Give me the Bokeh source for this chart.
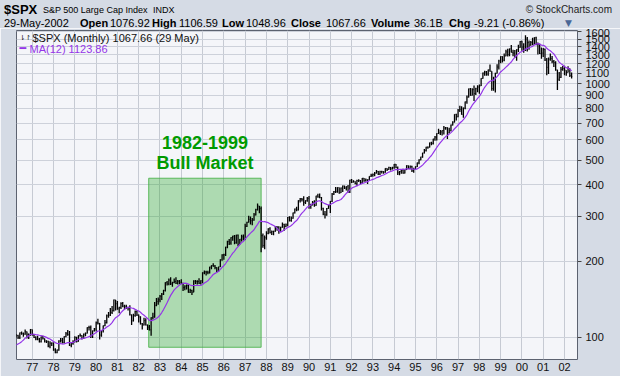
import html
import pandas as pd
from bokeh.plotting import figure
from bokeh.layouts import column
from bokeh.models import Range1d, FixedTicker, Label, NumeralTickFormatter, Div
from bokeh.embed import file_html
from bokeh.resources import INLINE

# ---------------- data (monthly S&P 500, Jan 1975 .. May 2002) ----------------
months = pd.period_range("1975-01", "2002-05", freq="M")
prior_close = 68.56  # Dec 1974 close (open of first month)

close = [
    76.98, 81.59, 83.36, 87.30, 91.15, 95.19, 88.75, 86.88, 83.87, 89.04, 91.24, 90.19,
    100.86, 99.71, 102.77, 101.64, 100.18, 104.28, 103.44, 102.91, 105.24, 102.90, 102.10, 107.46,
    102.03, 99.82, 98.42, 98.44, 96.12, 100.48, 98.85, 96.77, 96.53, 92.34, 94.83, 95.10,
    89.25, 87.04, 89.21, 96.83, 97.24, 95.53, 100.68, 103.29, 102.54, 93.15, 94.70, 96.11,
    99.93, 96.28, 101.59, 101.76, 99.08, 102.91, 103.81, 109.32, 109.32, 101.82, 106.16, 107.94,
    114.16, 113.66, 102.09, 106.29, 111.24, 114.24, 121.67, 122.38, 125.46, 127.47, 140.52, 135.76,
    129.55, 131.27, 136.00, 132.81, 132.59, 131.21, 130.92, 122.79, 116.18, 121.89, 126.35, 122.55,
    120.40, 113.11, 111.96, 116.44, 111.88, 109.61, 107.09, 119.51, 120.42, 133.71, 138.54, 140.64,
    145.30, 148.06, 152.96, 164.42, 162.39, 168.11, 162.56, 164.40, 166.07, 163.55, 166.40, 164.93,
    163.41, 157.06, 159.18, 160.05, 150.55, 153.18, 150.66, 166.68, 166.10, 166.09, 163.58, 167.24,
    179.63, 181.18, 180.66, 179.83, 189.55, 191.85, 190.92, 188.63, 182.08, 189.82, 202.17, 211.28,
    211.78, 226.92, 238.90, 235.52, 247.35, 250.84, 236.12, 252.93, 231.32, 243.98, 249.22, 242.17,
    274.08, 284.20, 291.70, 288.36, 290.10, 304.00, 318.66, 329.80, 321.83, 251.79, 230.30, 247.08,
    257.07, 267.82, 258.89, 261.33, 262.16, 273.50, 272.02, 261.52, 271.91, 278.97, 273.70, 277.72,
    297.47, 288.86, 294.87, 309.64, 320.52, 317.98, 346.08, 351.45, 349.15, 340.36, 345.99, 353.40,
    329.08, 331.89, 339.94, 330.80, 361.23, 358.02, 356.15, 322.56, 306.05, 304.00, 322.22, 330.22,
    343.93, 367.07, 375.22, 375.35, 389.83, 371.16, 387.81, 395.43, 387.86, 392.46, 375.22, 417.09,
    408.79, 412.70, 403.69, 414.95, 415.35, 408.14, 424.21, 414.03, 417.80, 418.68, 431.35, 435.71,
    438.78, 443.38, 451.67, 440.19, 450.19, 450.53, 448.13, 463.56, 458.93, 467.83, 461.79, 466.45,
    481.61, 467.14, 445.77, 450.91, 456.50, 444.27, 458.26, 475.49, 462.69, 472.35, 453.69, 459.27,
    470.42, 487.39, 500.71, 514.71, 533.40, 544.75, 562.06, 561.88, 584.41, 581.50, 605.37, 615.93,
    636.02, 640.43, 645.50, 654.17, 669.12, 670.63, 639.95, 651.99, 687.31, 705.27, 757.02, 740.74,
    786.16, 790.82, 757.12, 801.34, 848.28, 885.14, 954.31, 899.47, 947.28, 914.62, 955.40, 970.43,
    980.28, 1049.34, 1101.75, 1111.75, 1090.82, 1133.84, 1120.67, 957.28, 1017.01, 1098.67, 1163.63, 1229.23,
    1279.64, 1238.33, 1286.37, 1335.18, 1301.84, 1372.71, 1328.72, 1320.41, 1282.71, 1362.93, 1388.91, 1469.25,
    1394.46, 1366.42, 1498.58, 1452.43, 1420.60, 1454.60, 1430.83, 1517.68, 1436.51, 1429.40, 1314.95, 1320.28,
    1366.01, 1239.94, 1160.33, 1249.46, 1255.82, 1224.42, 1211.23, 1133.58, 1040.94, 1059.78, 1139.45, 1148.08,
    1130.20, 1106.73, 1147.39, 1076.92, 1067.66,
]

high = [
    78.0, 82.5, 86.0, 87.6, 92.0, 95.9, 96.0, 89.5, 87.0, 90.5, 92.0, 91.5,
    101.0, 102.0, 103.0, 103.0, 102.5, 104.5, 105.5, 104.5, 107.5, 105.5, 103.5, 107.8,
    107.5, 103.0, 101.0, 101.5, 99.5, 100.8, 101.5, 99.0, 97.5, 97.0, 96.5, 95.5,
    95.5, 90.5, 89.5, 97.5, 99.5, 99.5, 101.0, 105.0, 107.0, 106.0, 95.5, 97.5,
    101.0, 100.5, 102.0, 103.5, 102.0, 103.5, 104.5, 109.5, 111.0, 111.5, 106.5, 109.0,
    115.5, 118.5, 114.0, 106.5, 111.5, 117.0, 123.0, 126.0, 130.5, 133.0, 141.0, 140.5,
    139.0, 132.0, 137.5, 138.0, 134.5, 134.5, 132.0, 134.0, 123.0, 124.0, 127.5, 127.5,
    123.0, 121.0, 114.0, 119.5, 119.0, 112.5, 112.0, 120.0, 125.0, 138.0, 143.0, 143.5,
    147.0, 149.5, 154.0, 165.0, 167.0, 170.5, 172.5, 165.5, 170.5, 172.5, 168.5, 168.5,
    169.5, 164.0, 160.5, 161.5, 161.5, 155.5, 154.0, 168.0, 168.5, 168.0, 171.0, 168.0,
    180.5, 183.5, 183.0, 183.0, 190.0, 192.5, 196.0, 193.0, 189.0, 190.0, 203.0, 212.5,
    213.5, 227.5, 240.5, 244.5, 248.0, 251.5, 253.0, 254.0, 254.5, 244.5, 254.0, 254.5,
    280.5, 285.5, 301.5, 299.5, 295.5, 309.5, 321.5, 337.0, 329.5, 328.0, 257.0, 252.0,
    262.0, 269.0, 272.0, 264.0, 263.5, 275.0, 274.0, 274.5, 273.0, 284.0, 280.5, 281.0,
    298.0, 300.5, 299.5, 310.5, 322.0, 327.0, 347.0, 354.5, 354.0, 360.0, 347.0, 357.5,
    360.5, 336.0, 344.5, 347.5, 362.0, 368.0, 369.5, 357.5, 324.0, 315.0, 323.5, 332.5,
    344.5, 371.0, 377.5, 392.0, 390.5, 390.0, 390.0, 397.0, 396.0, 394.0, 399.0, 418.0,
    421.0, 416.5, 413.0, 418.0, 420.0, 417.5, 425.0, 425.0, 423.0, 419.5, 432.0, 441.5,
    442.5, 449.0, 456.5, 452.5, 453.5, 454.0, 451.5, 464.5, 464.5, 470.5, 469.5, 471.0,
    483.0, 482.5, 471.5, 453.0, 458.0, 462.5, 459.0, 476.5, 476.0, 475.5, 474.5, 466.0,
    472.5, 489.0, 504.0, 515.5, 534.0, 553.0, 564.0, 565.0, 586.5, 590.0, 607.0, 622.5,
    638.0, 664.5, 656.5, 656.0, 680.5, 675.5, 673.0, 670.5, 690.5, 711.0, 758.0, 762.0,
    795.0, 818.0, 814.5, 805.0, 851.0, 898.0, 957.0, 961.0, 960.0, 983.0, 963.0, 986.0,
    992.5, 1050.0, 1106.0, 1124.0, 1123.0, 1139.0, 1190.0, 1121.0, 1066.0, 1104.0, 1193.0, 1244.0,
    1283.0, 1282.0, 1316.0, 1362.0, 1375.0, 1376.0, 1421.0, 1360.0, 1358.0, 1367.0, 1424.0, 1474.0,
    1478.0, 1445.0, 1553.0, 1527.0, 1481.0, 1475.0, 1517.0, 1525.0, 1531.0, 1454.0, 1437.0, 1390.0,
    1384.0, 1376.0, 1263.0, 1269.0, 1316.0, 1287.0, 1240.0, 1227.0, 1134.0, 1111.0, 1163.0, 1174.0,
    1177.0, 1131.0, 1173.0, 1147.0, 1106.59,
]

low = [
    70.0, 76.0, 80.5, 80.4, 86.5, 89.5, 88.5, 82.2, 82.0, 83.0, 88.0, 86.0,
    90.0, 98.0, 98.5, 99.5, 98.5, 98.5, 102.5, 100.5, 102.5, 99.0, 98.5, 101.5,
    101.8, 99.5, 97.5, 97.5, 95.5, 95.5, 98.0, 95.5, 95.0, 91.5, 90.5, 92.5,
    88.5, 86.5, 86.5, 88.5, 95.5, 94.5, 94.5, 100.0, 101.5, 92.5, 91.5, 93.5,
    95.5, 95.5, 96.0, 100.5, 98.0, 98.5, 101.0, 103.5, 106.5, 99.5, 99.5, 105.5,
    105.5, 112.5, 98.0, 100.5, 104.5, 110.5, 113.5, 119.5, 121.5, 123.5, 126.5, 127.5,
    128.5, 124.5, 129.5, 131.5, 128.5, 129.5, 127.5, 122.0, 112.0, 115.5, 120.5, 121.5,
    114.5, 112.5, 107.5, 111.5, 111.5, 107.0, 106.5, 101.5, 117.5, 119.5, 132.5, 134.5,
    137.5, 140.5, 147.0, 151.5, 160.0, 160.5, 161.0, 158.5, 163.5, 162.5, 161.5, 162.0,
    162.5, 152.5, 153.5, 154.5, 150.0, 149.5, 147.0, 150.5, 162.5, 161.5, 162.5, 161.5,
    163.5, 177.5, 175.5, 177.5, 178.5, 185.5, 190.0, 185.5, 180.5, 181.5, 189.5, 200.5,
    202.5, 209.5, 224.5, 231.5, 232.0, 240.5, 233.0, 234.0, 228.5, 232.5, 238.5, 241.5,
    242.0, 272.5, 283.5, 278.5, 276.5, 288.5, 302.5, 316.5, 308.5, 216.5, 225.5, 222.5,
    242.5, 255.0, 256.5, 253.5, 252.5, 261.0, 263.5, 256.0, 261.0, 270.5, 263.5, 272.0,
    274.5, 286.5, 285.5, 293.5, 308.0, 314.5, 316.5, 340.0, 343.5, 330.0, 335.5, 342.5,
    321.5, 321.5, 331.5, 327.5, 330.0, 355.5, 353.5, 316.5, 303.0, 294.5, 301.5, 321.5,
    309.5, 341.5, 364.5, 371.0, 372.0, 368.5, 370.5, 374.5, 384.5, 379.5, 372.0, 371.0,
    406.5, 407.5, 401.5, 394.5, 409.5, 401.5, 404.5, 410.5, 411.5, 402.5, 417.5, 428.5,
    429.5, 431.5, 442.5, 436.5, 436.5, 442.5, 441.5, 446.0, 453.0, 458.0, 454.5, 459.5,
    462.5, 464.5, 436.5, 435.5, 441.5, 441.5, 442.5, 456.5, 461.5, 460.0, 448.5, 445.5,
    457.0, 469.5, 481.5, 499.0, 510.5, 530.5, 540.5, 553.5, 560.0, 571.5, 576.5, 596.5,
    597.5, 633.5, 627.5, 624.5, 630.0, 658.5, 605.5, 638.5, 649.5, 684.0, 703.0, 716.0,
    737.0, 773.5, 755.0, 733.5, 793.0, 833.0, 883.0, 897.0, 898.5, 855.0, 902.0, 925.0,
    912.5, 979.0, 1047.0, 1076.0, 1074.0, 1074.0, 1114.0, 939.0, 939.0, 923.0, 1098.0, 1138.0,
    1205.0, 1213.0, 1226.0, 1282.0, 1281.0, 1282.0, 1327.0, 1283.0, 1262.0, 1233.0, 1334.0, 1387.0,
    1350.0, 1325.0, 1346.0, 1339.0, 1361.0, 1410.0, 1418.0, 1430.0, 1419.0, 1305.0, 1311.0, 1254.0,
    1275.0, 1228.0, 1081.0, 1091.0, 1232.0, 1203.0, 1165.0, 1124.0, 944.0, 1026.0, 1054.0, 1124.0,
    1081.0, 1075.0, 1106.0, 1063.0, 1048.96,
]

price_ticks = [100, 200, 300, 400, 500, 600, 700, 800, 900, 1000,
               1100, 1200, 1300, 1400, 1500, 1600]
year_ticks = list(range(1977, 2003))
year_labels = ["77", "78", "79", "80", "81", "82", "83", "84", "85", "86", "87", "88", "89",
               "90", "91", "92", "93", "94", "95", "96", "97", "98", "99", "00", "01", "02"]

# highlighted bull-market period (decimal years) and its price band
bull_start, bull_end = 1982.47, 1987.75
bull_low, bull_high = 91.4, 424.0

# ---------------- derived columns ----------------
xs = [m.year + (m.month - 1) / 12.0 for m in months]
opens = [prior_close] + close[:-1]
ma12 = pd.Series(close).rolling(12).mean()
half = 0.35 / 12.0

df = pd.DataFrame({"x": xs, "open": opens, "high": high, "low": low, "close": close,
                   "ma": ma12})
df["xl"] = df["x"] - half
df["xr"] = df["x"] + half

BG = "#d5dbe5"
MA_COLOR = "#9435e8"

# ---------------- header strip (HTML) ----------------
HH = 28
spans = []


def hspan(text, x, y, size=11, bold=False, color="black", font="Liberation Sans",
          align="left"):
    pos = f"left:{x}px;" if align == "left" else f"right:{620 - x}px;"
    spans.append(
        f'<span style="position:absolute;{pos}top:{y - size / 2}px;line-height:{size}px;'
        f'font-size:{size}px;font-weight:{"bold" if bold else "normal"};color:{color};'
        f"font-family:'{font}';white-space:nowrap\">{html.escape(text)}</span>")


L1 = 9
hspan("$SPX", 4, L1, size=13, bold=True)
hspan("S&P 500 Large Cap Index", 43, L1 + 1, size=9)
hspan("INDX", 153, L1 + 1, size=9)
hspan("© StockCharts.com", 612, L1 + 1, size=10, color="#222222", align="right")

L2 = 23
hspan("29-May-2002", 4, L2)
hspan("Open", 80, L2, bold=True)
hspan("1076.92", 110, L2)
hspan("High", 152, L2, bold=True)
hspan("1106.59", 179, L2)
hspan("Low", 222, L2, bold=True)
hspan("1048.96", 246, L2)
hspan("Close", 291, L2, bold=True)
hspan("1067.66", 326, L2)
hspan("Volume", 371, L2, bold=True)
hspan("36.1B", 414, L2)
hspan("Chg", 449, L2, bold=True)
hspan("-9.21 (-0.86%)", 474, L2)
hspan("▼", 565, L2, size=9, color="#4a6796", font="DejaVu Sans")

hdr = Div(text=(f'<div style="position:relative;width:620px;height:{HH}px;'
                f'background:{BG};margin:0;padding:0">' + "".join(spans) + "</div>"),
          width=620, height=HH, margin=(0, 0, 0, 0))

# ---------------- main chart ----------------
main = figure(width=620, height=376 - HH, output_backend="svg", toolbar_location=None,
              x_range=Range1d(1976.26, 2002.61), y_range=Range1d(81.8, 1621),
              y_axis_type="log", y_axis_location="right",
              min_border_left=16, min_border_right=43, min_border_top=2, min_border_bottom=17,
              background_fill_color="#f4f5f9", border_fill_color=BG,
              outline_line_color="#5c6270", outline_line_width=1)

main.xaxis.ticker = FixedTicker(ticks=year_ticks)
main.xaxis.major_label_overrides = {y: l for y, l in zip(year_ticks, year_labels)}
main.xaxis.axis_line_color = None
main.xaxis.major_tick_line_color = None
main.xaxis.minor_tick_line_color = None
main.xaxis.major_tick_out = 0
main.xaxis.major_tick_in = 0
main.xaxis.major_label_standoff = 3
main.xaxis.major_label_text_font = "Liberation Sans"
main.xaxis.major_label_text_font_size = "11px"
main.xaxis.major_label_text_color = "#111111"

main.yaxis.ticker = FixedTicker(ticks=price_ticks)
main.yaxis.formatter = NumeralTickFormatter(format="0")
main.yaxis.axis_line_color = None
main.yaxis.major_tick_in = 0
main.yaxis.major_tick_out = 4
main.yaxis.major_tick_line_color = "#444444"
main.yaxis.minor_tick_line_color = None
main.yaxis.major_label_standoff = 4
main.yaxis.major_label_text_font = "Liberation Sans"
main.yaxis.major_label_text_font_size = "11px"
main.yaxis.major_label_text_color = "#111111"

main.xgrid.grid_line_color = "#c6cad3"
main.ygrid.grid_line_color = "#cdd1da"
main.ygrid.minor_grid_line_color = None

# green highlight box
main.quad(left=[bull_start], right=[bull_end], bottom=[bull_low], top=[bull_high],
          fill_color="#1fa51f", fill_alpha=0.33, line_color="#3fae3f", line_alpha=0.8)

# OHLC bars
main.segment(x0="x", y0="low", x1="x", y1="high", source=df, line_color="black", line_width=1.3)
main.segment(x0="xl", y0="open", x1="x", y1="open", source=df, line_color="black", line_width=1)
main.segment(x0="x", y0="close", x1="xr", y1="close", source=df, line_color="black", line_width=1)

# moving average
main.line(x="x", y="ma", source=df, line_color=MA_COLOR, line_width=1.2)

# annotation text
mid = (bull_start + bull_end) / 2
for txt, yv in (("1982-1999", 585), ("Bull Market", 488)):
    main.add_layout(Label(x=mid, y=yv, text=txt, text_align="center", text_baseline="middle",
                          text_font="Liberation Sans", text_font_style="bold",
                          text_font_size="18px", text_color="#009a00"))

# in-frame legend (screen units, from the frame's bottom-left corner)
FH = 329


def flabel(text, x, y, size="11px", color="#111111", font="Liberation Sans"):
    main.add_layout(Label(x=x, y=y, x_units="screen", y_units="screen", text=text,
                          text_align="left", text_baseline="middle", text_font=font,
                          text_font_size=size, text_color=color))


flabel("⇂↾", 3, FH - 7, size="7px", font="DejaVu Sans")
flabel("$SPX (Monthly) 1067.66 (29 May)", 16, FH - 7)
flabel("━", 3, FH - 18, size="11px", color=MA_COLOR, font="DejaVu Sans")
flabel("MA(12) 1123.86", 13, FH - 18, color=MA_COLOR)

p = column(hdr, main, spacing=0)
open("out.html", "w").write(file_html(p, INLINE))
